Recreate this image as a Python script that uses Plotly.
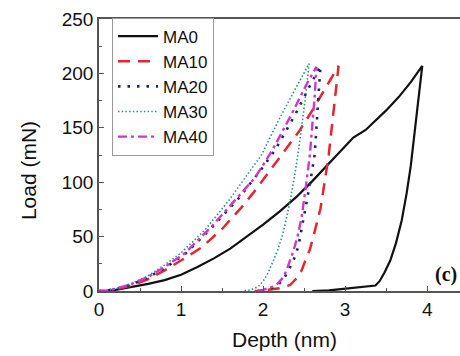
import plotly.graph_objects as go

# ---- data (depth in nm, load in mN) ----
ma0_depth = [0, 0.1, 0.2, 0.4, 0.6, 0.8, 1.0, 1.2, 1.4, 1.6, 1.8, 2.0, 2.2, 2.4, 2.6, 2.8, 2.95, 3.1, 3.25, 3.35, 3.5, 3.65, 3.8, 3.94,
             3.9, 3.85, 3.8, 3.75, 3.69, 3.62, 3.55, 3.48, 3.42, 3.37, 3.2, 3.0, 2.8, 2.6]
ma0_load = [0, 0, 1, 3.5, 6.5, 10, 15, 22, 30, 39, 50, 61, 73, 86, 101, 117, 130, 141, 148, 155, 166, 178, 192, 207,
            180, 148, 115, 90, 65, 44, 28, 17, 9, 5, 3.5, 2, 0.5, 0]

ma10_depth = [0, 0.1, 0.2, 0.4, 0.6, 0.8, 1.0, 1.25, 1.5, 1.75, 1.9, 2.1, 2.27, 2.45, 2.6, 2.73, 2.85, 2.92,
              2.88, 2.85, 2.8, 2.75, 2.7, 2.63, 2.57, 2.5, 2.47, 2.4, 2.33, 2.2, 2.12, 2.0, 1.9]
ma10_load = [0, 0.3, 1.5, 5, 11, 19, 28, 40, 57, 78, 92, 112, 129, 148, 166, 182, 198, 207,
             180, 160, 125, 100, 76, 55, 38, 25, 19, 11, 5.5, 2.5, 1.5, 0.5, 0]

ma20_depth = [0, 0.1, 0.2, 0.4, 0.6, 0.8, 1.05, 1.37, 1.7, 1.96, 2.15, 2.39, 2.58, 2.7,
              2.68, 2.66, 2.63, 2.57, 2.51, 2.47, 2.43, 2.38, 2.33, 2.25, 2.18, 2.1, 2.0, 1.95]
ma20_load = [0, 0.4, 1.8, 6, 12.5, 21, 34, 58, 85, 110, 130, 162, 190, 207,
             185, 160, 126, 98, 73, 55, 41, 30, 22, 11, 5.5, 2.5, 0.5, 0]

ma30_depth = [0, 0.1, 0.2, 0.4, 0.6, 0.8, 1.0, 1.29, 1.58, 1.84, 1.98, 2.21, 2.4, 2.53, 2.56,
              2.52, 2.48, 2.43, 2.38, 2.33, 2.25, 2.18, 2.12, 2.05, 2.0, 1.94, 1.85, 1.75]
ma30_load = [0, 0.5, 2, 7, 14, 24, 35, 56, 83, 110, 125, 160, 187, 206, 209,
             180, 155, 128, 104, 83, 55, 38, 27, 15, 9, 4, 1, 0]

ma40_depth = [0, 0.1, 0.2, 0.4, 0.6, 0.8, 1.05, 1.37, 1.7, 1.9, 2.11, 2.33, 2.53, 2.65,
              2.63, 2.6, 2.57, 2.52, 2.47, 2.42, 2.37, 2.3, 2.25, 2.18, 2.12, 2.0, 1.9]
ma40_load = [0, 0.5, 2, 6.5, 13, 22, 35, 59, 87, 104, 129, 160, 190, 206,
             180, 150, 125, 95, 68, 50, 37, 22, 13, 7, 4, 1, 0]

series_names = ["MA0", "MA10", "MA20", "MA30", "MA40"]
x_tick_vals = [0, 1, 2, 3, 4]
y_tick_vals = [0, 50, 100, 150, 200, 250]

fig = go.Figure()
styles = [
    (ma0_depth, ma0_load, "#111111", "solid", 2.2),
    (ma10_depth, ma10_load, "#e3262f", "12px,8px", 2.5),
    (ma20_depth, ma20_load, "#1c2470", "2.5px,7px", 2.6),
    (ma30_depth, ma30_load, "#2b8f86", "1.5px,2.2px", 1.6),
    (ma40_depth, ma40_load, "#cf36cf", "9px,4px,3px,4px", 2.4),
]
for name, (xs, ys, col, dash, w) in zip(series_names, styles):
    fig.add_trace(go.Scatter(x=xs, y=ys, mode="lines", name=name,
                             line=dict(color=col, dash=dash, width=w)))

fig.update_layout(
    width=460, height=356,
    margin=dict(l=99, r=0, t=18.5, b=65),
    paper_bgcolor="white", plot_bgcolor="white",
    font=dict(family="Liberation Sans, Arial", size=19, color="#111"),
    showlegend=True,
    legend=dict(x=0.036, y=1.005, xanchor="left", yanchor="top",
                bordercolor="#9a9a9a", borderwidth=1, bgcolor="white",
                font=dict(size=17), tracegroupgap=0, itemwidth=40),
)
fig.update_xaxes(range=[0, 4.4], tickvals=x_tick_vals, ticks="inside", ticklen=5,
                 tickcolor="#555", showline=True, linecolor="#555", linewidth=1.5,
                 mirror=True, showgrid=False, zeroline=False,
                 minor=dict(dtick=0.5, ticks="inside", ticklen=3, tickcolor="#555"))
fig.update_yaxes(range=[0, 250], tickvals=y_tick_vals, ticks="inside", ticklen=5,
                 tickcolor="#555", showline=True, linecolor="#555", linewidth=1.5,
                 mirror=False, showgrid=False, zeroline=False,
                 minor=dict(dtick=25, ticks="inside", ticklen=3, tickcolor="#555"))

fig.add_annotation(text="Load (mN)", xref="paper", yref="paper",
                   x=-0.197, y=0.444, textangle=-90, showarrow=False,
                   xanchor="center", yanchor="middle", font=dict(size=21))
fig.add_annotation(text="Depth (nm)", xref="paper", yref="paper",
                   x=0.515, y=-0.178, showarrow=False,
                   xanchor="center", yanchor="middle", font=dict(size=21))
fig.add_annotation(text="<b>(c)</b>", xref="paper", yref="paper",
                   x=0.962, y=0.062, showarrow=False,
                   xanchor="center", yanchor="middle",
                   font=dict(family="Liberation Serif, Times New Roman", size=20, color="#111"))

# remove the default 8px page margin so the figure fills the window exactly
fig.write_html("out.html", config={"displayModeBar": False},
               post_script="document.body.style.margin='0';")
